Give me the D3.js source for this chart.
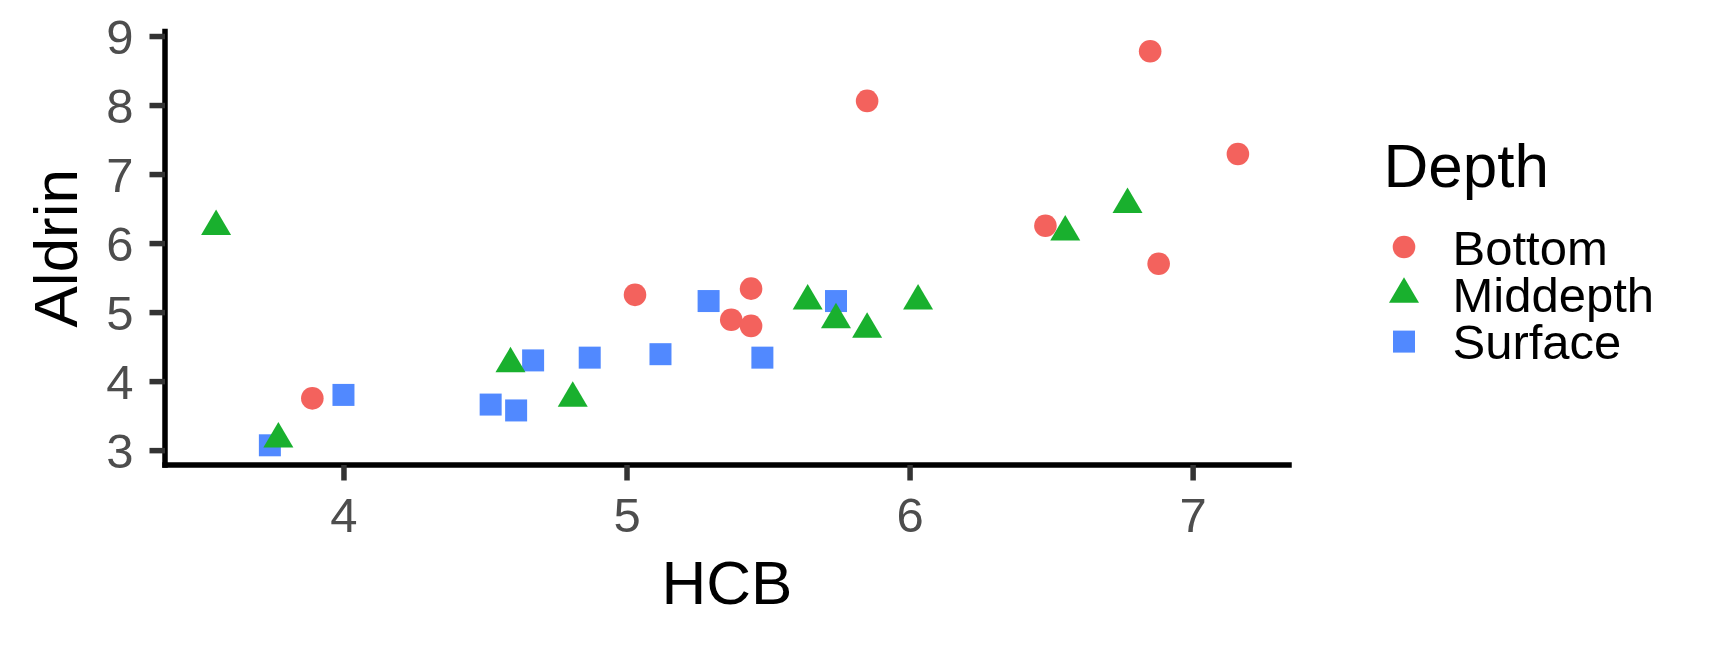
<!DOCTYPE html>
<html>
<head>
<meta charset="utf-8">
<script src="https://cdn.jsdelivr.net/npm/d3@7"></script>
<style>
  html, body { margin: 0; padding: 0; background: #ffffff; }
  svg { display: block; }
  text { font-family: "Liberation Sans", Arial, Helvetica, sans-serif; }
</style>
</head>
<body>
<script>
// ---- data ----
const depths = ["Bottom", "Middepth", "Surface"];
const bottomHCB    = [3.89, 5.03, 5.37, 5.44, 5.44, 5.85, 6.48, 6.85, 6.88, 7.16];
const bottomAldrin = [3.75, 5.25, 4.89, 5.34, 4.80, 8.06, 6.25, 8.78, 5.70, 7.29];
const middepthHCB    = [3.55, 3.77, 4.59, 4.81, 5.64, 5.74, 5.85, 6.03, 6.55, 6.77];
const middepthAldrin = [6.24, 3.16, 4.25, 3.75, 5.16, 4.89, 4.75, 5.16, 6.16, 6.56];
const surfaceHCB    = [3.74, 4.00, 4.52, 4.61, 4.67, 4.87, 5.12, 5.29, 5.48, 5.74];
const surfaceAldrin = [3.07, 3.80, 3.66, 3.575, 4.30, 4.34, 4.39, 5.16, 4.34, 5.16];
const xTicks = [4, 5, 6, 7];
const yTicks = [3, 4, 5, 6, 7, 8, 9];
const xTitle = "HCB";
const yTitle = "Aldrin";
const legendTitle = "Depth";

// ---- build records ----
const series = {
  Bottom:   {x: bottomHCB,   y: bottomAldrin},
  Middepth: {x: middepthHCB, y: middepthAldrin},
  Surface:  {x: surfaceHCB,  y: surfaceAldrin}
};
const points = [];
// draw order: Surface, Middepth, Bottom
["Surface", "Middepth", "Bottom"].forEach(g => {
  series[g].x.forEach((v, i) => points.push({depth: g, hcb: v, aldrin: series[g].y[i]}));
});

const W = 1728, H = 648;
const colors = {Bottom: "#F3625D", Middepth: "#19B02E", Surface: "#5189FF"};

function shapePath(g) {
  if (g === "Bottom") {
    const r = 11.3;
    return `M${-r},0A${r},${r} 0 1,0 ${r},0A${r},${r} 0 1,0 ${-r},0Z`;
  } else if (g === "Middepth") {
    return "M0,-17L15,8.5L-15,8.5Z";
  } else {
    return "M-11,-11H11V11H-11Z";
  }
}

const svg = d3.select("body").append("svg").attr("width", W).attr("height", H);

const allX = points.map(d => d.hcb), allY = points.map(d => d.aldrin);
const [x0, x1] = d3.extent(allX), [y0, y1] = d3.extent(allY);
const ex = (x1 - x0) * 0.05, ey = (y1 - y0) * 0.05;

const x = d3.scaleLinear().domain([x0 - ex, x1 + ex]).range([165, 1289]);
const y = d3.scaleLinear().domain([y0 - ey, y1 + ey]).range([465, 31.5]);

const lineW = 5.5;

// x axis
const xAxisG = svg.append("g").attr("transform", `translate(0,${y.range()[0]})`)
  .call(d3.axisBottom(x).tickValues(xTicks).tickSize(15.5).tickSizeOuter(0).tickFormat(d3.format("d")));
xAxisG.select(".domain").attr("stroke", "#000").attr("stroke-width", lineW).attr("stroke-linecap", "square")
  .attr("d", `M${x.range()[0]},0H${x.range()[1]}`);
xAxisG.selectAll(".tick line").attr("stroke", "#333333").attr("stroke-width", lineW);
xAxisG.selectAll(".tick text").attr("fill", "#4D4D4D").attr("font-size", 49)
  .attr("y", 66.5).attr("dy", null)
  .style("font-family", '"Liberation Sans", Arial, sans-serif');

// y axis
const yAxisG = svg.append("g").attr("transform", `translate(${x.range()[0]},0)`)
  .call(d3.axisLeft(y).tickValues(yTicks).tickSize(15.5).tickSizeOuter(0).tickFormat(d3.format("d")));
yAxisG.select(".domain").attr("stroke", "#000").attr("stroke-width", lineW).attr("stroke-linecap", "square")
  .attr("d", `M0,${y.range()[1]}V${y.range()[0]}`);
yAxisG.selectAll(".tick line").attr("stroke", "#333333").attr("stroke-width", lineW);
yAxisG.selectAll(".tick text").attr("fill", "#4D4D4D").attr("font-size", 49)
  .attr("x", -31.5).attr("dy", "0.36em")
  .style("font-family", '"Liberation Sans", Arial, sans-serif');

// points
svg.append("g").selectAll("path").data(points).join("path")
  .attr("transform", d => `translate(${x(d.hcb)},${y(d.aldrin)})`)
  .attr("d", d => shapePath(d.depth))
  .attr("fill", d => colors[d.depth]);

// axis titles
svg.append("text").attr("x", (x.range()[0] + x.range()[1]) / 2).attr("y", 604)
  .attr("text-anchor", "middle").attr("font-size", 62).attr("fill", "#000").text(xTitle);
svg.append("text").attr("transform", `translate(77,${(y.range()[0] + y.range()[1]) / 2}) rotate(-90)`)
  .attr("text-anchor", "middle").attr("font-size", 62).attr("fill", "#000").text(yTitle);

// legend
const leg = svg.append("g");
leg.append("text").attr("x", 1383.5).attr("y", 187).attr("font-size", 62).attr("fill", "#000").text(legendTitle);
const legRows = leg.selectAll("g.row").data(depths).join("g").attr("class", "row")
  .attr("transform", (d, i) => `translate(1404,${247 + i * 47.3})`);
legRows.append("path").attr("d", d => shapePath(d)).attr("fill", d => colors[d]);
legRows.append("text").attr("x", 48.5).attr("y", 17.5).attr("font-size", 49).attr("fill", "#000").text(d => d);
</script>
</body>
</html>
